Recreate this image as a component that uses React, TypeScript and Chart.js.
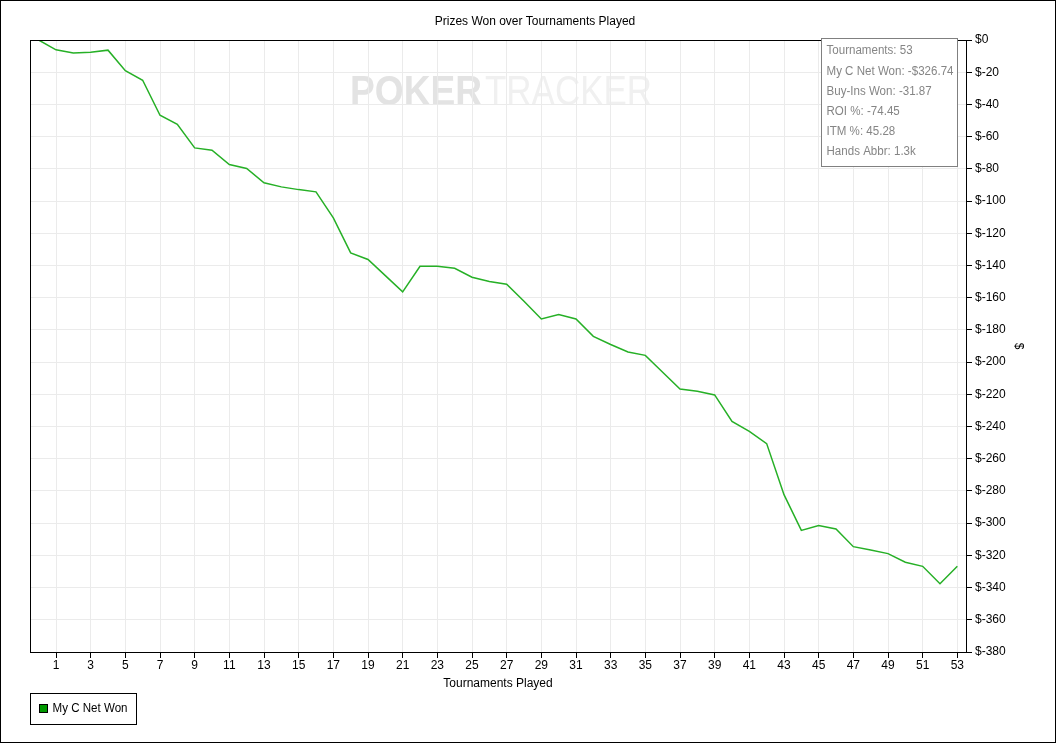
import React, { useEffect, useRef } from "react";
import { Chart, registerables } from "chart.js";

Chart.register(...registerables);

const tournaments = [
  0, 1, 2, 3, 4, 5, 6, 7, 8, 9, 10, 11, 12, 13, 14, 15, 16, 17, 18, 19, 20,
  21, 22, 23, 24, 25, 26, 27, 28, 29, 30, 31, 32, 33, 34, 35, 36, 37, 38, 39,
  40, 41, 42, 43, 44, 45, 46, 47, 48, 49, 50, 51, 52, 53,
];

const netWon = [
  0, -6.1, -8.0, -7.6, -6.3, -19.1, -25.0, -46.7, -52.3, -67.0, -68.4, -77.3,
  -79.8, -88.7, -91.2, -92.9, -94.3, -110.4, -132.2, -136.3, -146.3, -156.4,
  -140.5, -140.5, -141.7, -147.3, -150.0, -151.7, -162.2, -173.2, -170.5,
  -173.2, -184.0, -189.1, -193.7, -195.8, -206.3, -216.7, -218.1, -220.4,
  -236.8, -243.0, -250.6, -282.3, -304.5, -301.4, -303.6, -314.6, -316.7,
  -318.9, -324.3, -326.8, -337.6, -326.74,
];

const xTickValues = [
  1, 3, 5, 7, 9, 11, 13, 15, 17, 19, 21, 23, 25, 27, 29, 31, 33, 35, 37, 39,
  41, 43, 45, 47, 49, 51, 53,
];

const chartTitle = "Prizes Won over Tournaments Played";
const xTitle = "Tournaments Played";
const yTitle = "$";
const seriesName = "My C Net Won";
const infoLines = [
  "Tournaments: 53",
  "My C Net Won: -$326.74",
  "Buy-Ins Won: -31.87",
  "ROI %: -74.45",
  "ITM %: 45.28",
  "Hands Abbr: 1.3k",
];
const watermarkA = "POKER";
const watermarkB = "TRACKER";

const FONT = "'Liberation Sans', Arial, sans-serif";
const LINE_COLOR = "#26b026";

const decor = {
  id: "decor",
  beforeDraw(chart: any) {
    const ctx = chart.ctx;
    ctx.save();
    ctx.fillStyle = "#ffffff";
    ctx.fillRect(0, 0, chart.width, chart.height);
    // watermark
    ctx.textBaseline = "alphabetic";
    ctx.textAlign = "left";
    ctx.font = `bold 42px ${FONT}`;
    let w = ctx.measureText(watermarkA).width;
    ctx.save();
    ctx.translate(350, 105);
    ctx.scale(132 / w, 1);
    ctx.fillStyle = "#e3e3e3";
    ctx.fillText(watermarkA, 0, 0);
    ctx.restore();
    ctx.font = `42px ${FONT}`;
    w = ctx.measureText(watermarkB).width;
    ctx.save();
    ctx.translate(485, 105);
    ctx.scale(167 / w, 1);
    ctx.fillStyle = "#f0f0f0";
    ctx.fillText(watermarkB, 0, 0);
    ctx.restore();
    ctx.restore();
  },
  afterDraw(chart: any) {
    const ctx = chart.ctx;
    const a = chart.chartArea;
    ctx.save();
    // plot border
    ctx.strokeStyle = "#000";
    ctx.lineWidth = 1;
    ctx.strokeRect(
      Math.round(a.left) + 0.5,
      Math.round(a.top) + 0.5,
      Math.round(a.right - a.left),
      Math.round(a.bottom - a.top)
    );
    // outer frame
    ctx.strokeRect(0.5, 0.5, chart.width - 1, chart.height - 1);
    // title
    ctx.fillStyle = "#000";
    ctx.font = `12px ${FONT}`;
    ctx.textAlign = "center";
    ctx.textBaseline = "middle";
    ctx.fillText(chartTitle, 535, 22);
    // x title
    ctx.fillText(xTitle, (a.left + a.right) / 2, 684);
    // y title
    ctx.save();
    ctx.translate(1018, (a.top + a.bottom) / 2);
    ctx.rotate(Math.PI / 2);
    ctx.fillText(yTitle, 0, 0);
    ctx.restore();
    // legend
    ctx.strokeStyle = "#000";
    ctx.strokeRect(30.5, 693.5, 106, 31);
    ctx.fillStyle = "#009900";
    ctx.fillRect(39.5, 704.5, 8, 8);
    ctx.strokeRect(39.5, 704.5, 8, 8);
    ctx.fillStyle = "#000";
    ctx.textAlign = "left";
    ctx.font = `12px ${FONT}`;
    const lw = ctx.measureText(seriesName).width;
    ctx.save();
    ctx.translate(52.5, 709);
    ctx.scale(Math.min(1, 75 / lw), 1);
    ctx.fillText(seriesName, 0, 0);
    ctx.restore();
    // info box
    ctx.fillStyle = "#ffffff";
    ctx.fillRect(821.5, 38.5, 136, 128);
    ctx.strokeStyle = "#808080";
    ctx.strokeRect(821.5, 38.5, 136, 128);
    ctx.fillStyle = "#858585";
    ctx.font = `12px ${FONT}`;
    const maxW = Math.max(...infoLines.map((t) => ctx.measureText(t).width));
    const sx = Math.min(1, 127 / maxW);
    infoLines.forEach((t, i) => {
      ctx.save();
      ctx.translate(826.5, 51 + i * 20.2);
      ctx.scale(sx, 1);
      ctx.fillText(t, 0, 0);
      ctx.restore();
    });
    ctx.restore();
  },
};

export default function App() {
  const ref = useRef<HTMLCanvasElement | null>(null);
  useEffect(() => {
    document.body.style.margin = "0";
    const canvas = ref.current;
    if (!canvas) return;
    const chart = new Chart(canvas, {
      type: "line",
      data: {
        datasets: [
          {
            label: seriesName,
            data: tournaments.map((t, i) => ({ x: t, y: netWon[i] })),
            borderColor: LINE_COLOR,
            backgroundColor: LINE_COLOR,
            borderWidth: 1.5,
            pointRadius: 0,
            tension: 0,
            fill: false,
          },
        ],
      },
      options: {
        animation: false,
        responsive: false,
        devicePixelRatio: 1,
        layout: { padding: { left: 30, top: 40, right: 0, bottom: 0 } },
        plugins: {
          legend: { display: false },
          title: { display: false },
          tooltip: { enabled: false },
        },
        scales: {
          x: {
            type: "linear",
            min: -0.5,
            max: 53.5,
            afterBuildTicks: (scale: any) => {
              scale.ticks = xTickValues.map((v) => ({ value: v }));
            },
            afterFit: (scale: any) => {
              scale.height = 91;
            },
            ticks: {
              autoSkip: false,
              maxRotation: 0,
              padding: 0,
              color: "#000",
              font: { family: FONT, size: 12 },
              callback: (v: any) => String(v),
            },
            grid: {
              color: "#ebebeb",
              tickColor: "#000",
              tickLength: 6,
              lineWidth: 1,
            },
            border: { display: true, color: "#000" },
          },
          y: {
            position: "right",
            min: -380,
            max: 0,
            afterFit: (scale: any) => {
              scale.width = 90;
            },
            ticks: {
              stepSize: 20,
              padding: 3,
              color: "#000",
              font: { family: FONT, size: 12 },
              callback: (v: any) => "$" + v,
            },
            grid: {
              color: "#ebebeb",
              tickColor: "#000",
              tickLength: 6,
              lineWidth: 1,
            },
            border: { display: true, color: "#000" },
          },
        },
      },
      plugins: [decor],
    } as any);
    return () => chart.destroy();
  }, []);
  return (
    <div style={{ position: "absolute", left: 0, top: 0, width: 1056, height: 743 }}>
      <canvas ref={ref} width={1056} height={743} style={{ display: "block" }} />
    </div>
  );
}
